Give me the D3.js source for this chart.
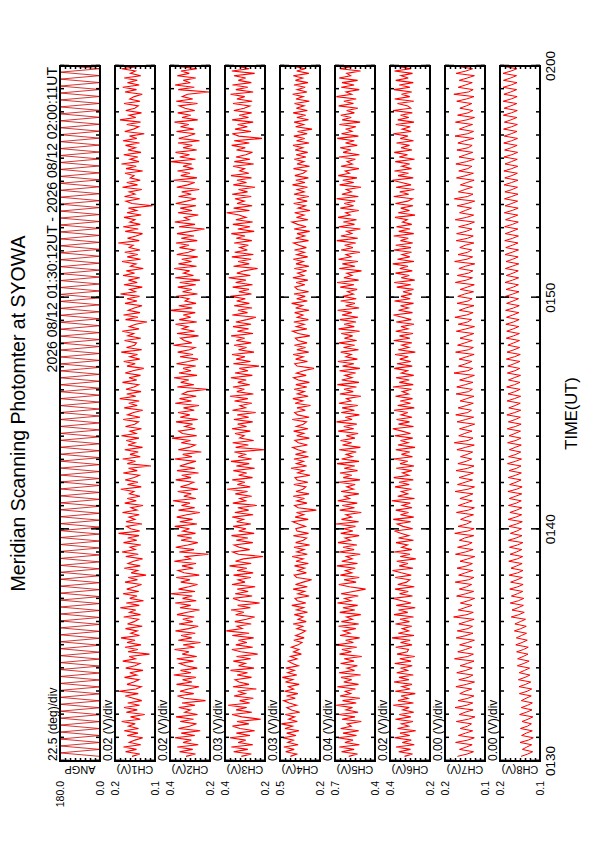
<!DOCTYPE html>
<html>
<head>
<meta charset="utf-8">
<script src="https://cdn.jsdelivr.net/npm/d3@7"></script>
<style>
body { margin: 0; background: #fff; }
text { font-family: "Liberation Sans", Arial, sans-serif; fill: #000; }
</style>
</head>
<body>
<script>
// panel names, y-axis bottom value and value per division (8 divisions per panel)
const panelNames = ["ANGP", "CH1(V)", "CH2(V)", "CH3(V)", "CH4(V)", "CH5(V)", "CH6(V)", "CH7(V)", "CH8(V)"];
const panelUnits = ["(deg)", "(V)", "(V)", "(V)", "(V)", "(V)", "(V)", "(V)", "(V)"];
const panelLow   = [0, 0.06, 0.24, 0.20, 0.24, 0.38, 0.22, 0.14, 0.14];
const panelDiv   = [22.5, 0.02, 0.02, 0.03, 0.03, 0.04, 0.02, 0.004, 0.004];
const timeTickLabels = ["0130", "0140", "0150", "0200"];

// scan angle (deg)
const angp = [
0,180,0,180,0,180,0,180,0,180,0,180,0,180,0,180,0,180,0,180,
0,180,0,180,0,180,0,180,0,180,0,180,0,180,0,180,0,180,0,180,
0,180,0,180,0,180,0,180,0,180,0,180,0,180,0,180,0,180,0,180,
0,180,0,180,0,180,0,180,0,180,0,180,0,180,0,180,0,180,0,180,
0,180,0,180,0,180,0,180,0,180,0,180,0,180,0,180,0,180,0,180,
0,180,0,180,0,180,0,180,0,180,0,180,0,180,0,180,0,180,0,180,
0,180,0,180,0,180,0,180,0,180,0,180,0,180,0,180,0,180,0,180,
0,180,0,180,0,180,0,180,0,180,0,180,0,180,0,180,0,180,0,180,
0,180,0,180,0,180,0,180,0,180,0,180,0,180,0,180,0,180,0,180,
0,180,0,180,0,180,0,180,0,180,0,180,0,180,0,180,0,180,0,180,0];

// channel values in mV
const ch1 = [
152,121,178,134,186,117,163,140,109,171,128,183,126,166,139,193,119,158,101,175,
131,184,122,169,113,147,179,127,204,136,115,172,145,124,182,133,161,108,177,140,
120,189,138,163,82,168,129,180,116,172,140,196,122,157,131,178,111,170,143,126,
185,118,162,137,199,123,175,106,161,132,188,125,173,141,114,180,130,167,96,155,
129,183,119,168,146,110,177,127,192,139,160,117,186,133,169,124,206,121,157,174,
112,176,140,164,123,190,132,156,108,181,135,171,120,162,144,197,115,170,128,179,
143,122,187,131,166,76,171,138,189,119,160,127,181,110,168,139,175,124,194,136,
160,114,178,141,126,187,120,170,146,109,183,131,165,123,201,137,173,116,176,144,
125,190,133,164,118,179,148,105,172,139,185,121,161,130,195,113,174,142,134,182,
117,169,145,191,124,163,137,92,178,128,186,120,167,143,112,180,132,172,122,198,
138,161,111,184,131,166,121,188,142,175,107,158,136,192,118,171,129,181,120,163,
147,207,123,170,136,110,179,127,187,119,161,140,184,115,172,133,166,70,152,176,
121,182,140,163,113,190,130,173,119,159,144,180,109,176,135,194,124,160,129,185,
116,168,138,178,122,188,133,162,103,181,146,125,173,118,200,137,164,114,177,141,
127,184,120,161,143,111,180,134,189,123,170,131,183,117,158,138,193,126,174,139];
const ch2 = [
336,298,362,309,371,287,348,315,380,301,355,279,366,322,294,359,306,376,290,341,
319,365,300,352,258,343,370,305,360,327,284,374,312,350,297,385,316,358,291,337,
362,306,373,293,351,324,382,302,347,278,367,313,356,299,378,326,287,364,309,349,
303,372,331,282,360,317,379,295,350,311,398,300,366,325,290,357,320,375,283,344,
368,307,352,296,383,318,339,246,363,304,377,329,289,356,313,371,298,349,322,381,
292,361,310,373,333,281,366,301,354,320,388,297,345,315,369,288,358,326,305,377,
316,353,286,372,300,361,330,296,381,312,349,275,367,323,299,355,318,392,293,350,
365,299,341,310,376,289,359,321,368,303,346,284,379,314,362,295,351,330,250,371,
305,357,325,384,292,364,316,348,297,374,327,288,360,308,369,322,300,386,313,343,
358,286,372,302,352,328,378,293,363,317,347,299,400,311,365,296,340,324,375,290,
350,313,369,297,361,280,379,306,346,321,383,294,366,314,353,289,373,327,302,362,
324,376,291,355,304,372,318,262,364,300,381,323,342,287,368,312,359,296,377,333,
296,366,315,353,283,373,329,301,385,292,357,320,370,306,348,313,396,298,361,322,
378,293,348,311,368,282,365,327,299,374,305,358,325,382,289,352,317,369,301,340,
363,290,375,309,351,330,244,367,303,380,319,347,297,371,323,356,292,365,314,349];
const ch3 = [
342,282,388,303,402,273,361,316,410,290,372,262,350,395,297,368,226,339,398,279,
373,310,421,292,352,270,386,319,364,252,392,296,356,380,281,367,305,407,266,359,
318,390,286,371,244,346,399,274,375,309,360,268,396,295,432,337,368,283,381,312,
262,376,327,404,288,364,232,350,392,277,379,301,366,259,398,320,361,285,389,271,
367,309,413,283,377,330,212,359,394,292,355,386,273,372,303,401,265,358,314,391,
285,370,329,397,271,381,298,363,249,393,316,352,280,378,305,427,289,366,321,396,
275,358,310,390,262,372,295,404,280,361,319,384,205,376,300,394,268,352,325,380,
288,398,311,364,274,387,298,366,256,395,317,350,279,383,303,410,270,369,324,392,
292,363,313,405,276,380,302,354,236,390,287,373,320,398,266,359,311,386,283,372,
322,403,272,366,299,392,284,375,309,255,396,305,362,278,385,294,370,318,409,281,
357,296,394,275,376,315,418,288,369,326,244,389,295,361,283,399,270,382,306,352,
300,385,279,372,320,402,265,363,290,393,274,375,314,356,430,293,388,277,368,324,
380,283,397,305,359,260,390,311,368,281,404,297,352,323,392,268,384,290,374,315,
275,371,318,400,294,385,218,357,396,284,380,306,364,271,397,299,355,280,387,325,
291,392,277,369,322,407,271,375,303,395,282,360,316,386,262,399,296,358,287,383];
const ch4 = [
418,380,446,395,457,371,433,400,462,384,440,366,450,405,472,376,428,392,448,362,
411,439,380,425,458,388,441,373,452,398,429,365,447,403,466,379,434,394,445,370,
405,431,378,417,352,399,366,412,371,348,397,335,386,352,327,379,343,401,323,372,
341,394,315,381,338,409,325,376,390,305,373,332,401,316,387,341,290,380,395,322,
374,332,393,310,384,341,407,316,379,335,396,302,386,340,320,400,309,378,385,328,
369,404,311,389,337,381,262,371,393,318,379,333,401,306,384,342,325,397,313,377,
390,300,374,336,414,320,381,339,396,309,387,326,373,404,315,370,391,304,380,337,
398,312,382,340,321,406,305,375,392,328,378,297,389,343,403,311,376,334,395,319,
385,304,371,399,323,381,338,276,377,392,315,386,341,401,308,379,327,394,318,372,
388,301,370,405,319,382,335,397,310,377,342,392,306,386,344,410,316,380,329,396,
308,375,391,331,383,313,403,337,374,320,394,306,384,340,400,314,379,333,393,322,
367,399,309,386,331,378,302,395,323,374,408,312,381,336,392,300,371,328,398,317,
380,307,396,335,377,315,405,330,385,310,391,341,321,399,303,378,336,394,325,383,
314,389,343,402,306,381,332,397,317,375,288,386,338,395,309,379,326,401,316,382,
336,393,304,384,341,404,318,377,329,396,312,387,344,400,307,380,330,392,320,376];
const ch5 = [
590,520,648,547,665,505,621,556,676,528,636,510,655,570,602,490,644,540,671,515,
612,560,690,530,640,500,660,574,618,536,681,512,630,566,652,495,668,544,604,521,
655,548,626,486,664,569,645,526,694,553,615,503,659,579,633,534,672,510,649,560,
608,494,662,542,637,519,680,571,622,514,652,555,455,585,670,531,628,506,657,565,
617,538,685,520,646,562,609,498,667,547,636,525,676,576,620,507,654,557,631,536,
692,511,648,568,613,490,662,544,642,522,678,583,624,509,651,552,606,539,673,500,
634,566,660,520,626,542,684,508,647,561,611,530,666,497,640,567,656,541,610,515,
674,550,630,526,688,563,617,505,650,545,643,518,669,574,608,493,661,554,628,529,
681,508,646,564,621,535,664,501,639,549,677,521,614,570,654,512,632,543,668,527,
625,559,650,503,671,546,627,532,662,516,644,566,679,507,615,541,655,530,637,553,
600,523,658,548,683,511,629,563,606,488,666,540,641,517,672,572,612,500,651,557,
623,534,686,518,653,565,607,497,670,544,633,528,675,578,614,510,657,551,626,539,
688,514,645,569,610,492,663,550,638,524,674,584,618,509,652,561,603,537,668,505,
635,573,659,522,616,546,682,513,648,564,609,533,665,499,642,570,654,545,607,517,
671,552,629,531,689,567,612,506,650,547,644,519,667,575,606,496,660,560,627,534];
const ch6 = [
322,290,345,298,356,283,331,295,362,301,340,277,350,306,334,288,358,297,343,285,
329,303,367,286,348,308,336,279,359,300,332,292,364,304,344,287,353,310,335,291,
361,296,341,281,352,311,306,357,292,338,299,372,284,347,305,331,293,358,302,340,
286,364,309,346,279,355,296,333,368,290,342,307,360,283,349,314,301,359,295,335,
370,288,343,308,353,277,339,300,363,293,333,310,356,286,346,305,337,362,289,328,
351,297,367,285,338,306,357,292,331,299,373,282,349,309,335,294,360,303,344,287,
365,305,330,293,355,284,340,309,366,290,334,301,357,280,348,307,338,289,361,298,
332,369,286,346,302,354,292,336,309,364,283,349,298,339,290,358,306,331,294,368,
287,343,303,356,285,335,310,363,291,352,297,341,307,360,279,347,304,333,293,365,
300,342,288,357,308,336,284,355,295,331,366,290,346,306,338,286,362,299,336,292,
328,286,353,297,363,281,335,303,358,291,341,308,369,284,350,301,332,294,364,296,
357,289,338,307,365,285,345,300,354,293,330,311,360,280,347,302,337,288,358,309,
290,365,305,341,283,356,296,334,371,287,348,306,362,294,333,301,359,282,343,310,
363,292,336,302,354,286,339,308,366,295,331,299,357,284,349,305,338,291,368,297,
309,350,285,361,301,334,293,364,300,343,287,357,307,336,290,362,296,347,304,329];
const ch7 = [
162.1,154.3,149.2,160.4,155.1,150.3,163.5,153.8,148.6,161.2,155.6,149.9,159.8,154.0,150.8,
162.9,153.2,148.1,160.7,155.9,149.5,164.0,154.6,149.8,161.5,153.7,148.9,160.2,156.1,150.6,
163.3,154.8,148.4,161.0,153.5,149.7,162.6,155.4,150.2,159.9,154.2,148.8,164.4,153.9,149.3,
161.8,155.7,150.5,160.3,154.1,148.5,163.0,155.2,149.6,162.2,153.6,150.0,160.9,154.9,148.7,
165.1,154.4,149.4,161.4,156.0,150.4,159.7,153.4,148.3,162.7,155.3,149.1,160.6,154.7,150.7,
163.8,153.1,148.9,161.1,155.8,149.8,162.4,154.5,150.1,160.0,153.8,148.2,163.6,155.5,149.5,
161.9,154.2,150.3,160.5,156.3,149.0,164.2,153.7,148.7,161.6,154.8,150.9,159.5,155.0,149.2,
162.8,153.3,148.5,161.3,155.6,150.2,160.1,154.4,149.7,163.9,153.6,148.4,162.0,155.9,150.0,
160.8,154.6,149.3,163.2,153.9,148.8,161.7,155.1,150.6,159.6,154.3,149.9,162.5,155.7,148.6,
164.6,153.5,149.6,161.0,156.2,150.4,160.4,154.0,148.3,162.3,155.4,149.1,163.4,153.8,150.8,
161.5,155.0,149.4,159.9,154.6,148.9,163.1,153.2,150.1,162.6,155.8,149.6,160.3,154.1,148.5,
164.8,153.7,149.8,161.2,155.3,150.5,160.7,154.9,148.7,163.5,153.4,149.3,161.9,156.0,150.2,
160.0,154.5,149.0,162.9,155.2,148.4,161.4,153.9,150.7,164.1,154.7,149.5,160.6,155.5,148.8,
162.4,153.6,150.3,161.8,156.4,149.2,159.8,154.2,148.6,163.7,155.0,150.0,162.1,153.3,149.7,
160.9,155.6,148.2,164.3,154.4,149.9,161.6,153.8,150.6,160.2,155.9,148.9,163.0,154.0,149.4,
162.7,155.1,150.4,161.1,153.5,148.5,163.8,154.8,149.1,160.4,155.7,150.8,162.2,154.3,148.3,
164.5,153.9,149.6,161.3,156.1,150.1,159.7,154.6,148.7,162.8,155.2,149.3,161.0,153.7,150.5,
163.3,154.9,148.6,160.8,155.4,149.8,162.5,153.4,150.3,161.7,156.3,148.9,164.0,154.1,149.2,
160.5,155.8,150.0,163.6,154.5,148.4,161.9,153.6,149.7,160.1,155.0,150.6,162.6,154.7,148.8,
164.9,153.2,149.5,161.4,155.6,150.2,160.6,154.2,148.5,163.1,155.3,149.9,161.8,153.9,150.4];
const ch8 = [
155.2,149.8,145.9,154.1,150.6,146.7,156.0,149.3,145.4,154.7,151.0,146.2,155.6,150.1,146.9,
154.4,149.6,145.7,156.3,150.8,146.4,155.0,149.9,146.1,154.9,151.2,147.0,156.5,150.4,146.6,
156.8,151.5,147.4,157.3,152.0,148.1,156.6,152.4,148.3,158.1,152.9,148.7,157.9,153.5,149.6,
158.7,153.2,149.4,159.4,154.4,150.2,158.9,154.9,150.8,160.5,155.3,151.0,160.1,155.8,151.6,
163.0,156.9,152.6,162.4,157.5,153.3,163.8,157.2,153.0,162.9,158.1,153.8,164.2,157.7,153.5,
163.5,158.4,154.1,164.7,157.9,153.6,163.2,158.6,154.3,165.0,158.2,153.9,163.9,158.8,154.6,
164.4,158.0,153.7,165.3,159.1,154.4,163.7,158.5,154.8,164.9,158.9,154.2,165.5,159.3,154.7,
164.1,158.7,154.5,165.2,159.0,155.0,164.6,159.4,154.6,165.7,158.6,154.3,164.3,159.2,155.1,
165.4,159.5,154.9,164.8,158.8,155.2,166.0,159.7,154.8,165.1,159.3,155.4,164.5,159.9,155.0,
165.9,159.2,155.3,164.7,160.0,155.6,166.2,159.6,155.1,165.3,159.8,155.7,166.5,160.2,155.4,
165.0,159.9,155.8,166.3,160.4,155.5,165.6,160.1,155.9,166.7,160.3,156.0,165.2,160.6,155.6,
166.1,160.0,156.2,165.8,160.7,156.1,166.9,160.5,155.8,166.4,160.9,156.3,165.7,161.0,156.4,
167.0,161.2,156.5,166.6,161.5,157.0,167.3,161.1,156.7,166.8,161.8,156.9,167.5,161.3,156.6,
166.7,161.6,157.2,167.6,161.9,156.8,167.1,161.4,157.3,167.9,162.0,157.1,166.9,161.7,157.4,
167.7,162.2,157.0,167.2,161.8,157.5,168.0,162.3,157.2,167.4,162.1,157.6,168.2,161.9,157.3,
167.8,162.4,157.7,168.3,162.0,157.4,167.6,162.6,157.8,168.5,162.2,157.5,167.9,162.5,157.9,
168.4,162.7,157.6,168.1,162.3,158.0,168.7,162.8,157.7,168.2,162.4,158.1,168.9,162.6,157.8,
168.0,162.9,158.2,168.8,162.5,157.9,168.3,163.0,158.3,169.0,162.7,158.0,168.6,163.1,158.4,
169.1,162.8,158.1,168.5,163.2,158.5,169.3,162.9,158.2,168.7,163.3,158.6,169.4,163.0,158.3,
168.9,163.4,158.7,169.5,163.1,158.4,169.2,163.5,158.8,169.6,163.2,158.5,169.0,163.6,158.9];

const series = [angp, ch1, ch2, ch3, ch4, ch5, ch6, ch7, ch8];
const valueScale = [1, 0.001, 0.001, 0.001, 0.001, 0.001, 0.001, 0.001, 0.001]; // deg, mV -> V

const dataStart = new Date(Date.UTC(2026, 7, 12, 1, 30, 12));
const dataEnd   = new Date(Date.UTC(2026, 7, 12, 2, 0, 11));
const axisStart = new Date(Date.UTC(2026, 7, 12, 1, 30, 0));
const axisEnd   = new Date(Date.UTC(2026, 7, 12, 2, 0, 0));

// page is portrait; the plot is drawn in landscape and turned a quarter turn
const svg = d3.select("body").append("svg")
    .attr("width", 595)
    .attr("height", 842);

const g = svg.append("g")
    .attr("transform", "translate(0,842) rotate(-90)");

const left = 81, right = 776;
const panelH = 40, panelGap = 55, firstTop = 60;

const x = d3.scaleUtc()
    .domain([axisStart, axisEnd])
    .range([left, right]);

const fmtTime = d3.utcFormat("%H%M");

g.append("text")
    .attr("x", (left + right) / 2)
    .attr("y", 25)
    .attr("text-anchor", "middle")
    .style("font-size", "19.5px")
    .text("Meridian Scanning Photomter at SYOWA");

g.append("text")
    .attr("x", right - 1)
    .attr("y", 57)
    .attr("text-anchor", "end")
    .style("font-size", "14px")
    .text("2026 08/12 01:30:12UT - 2026 08/12 02:00:11UT");

panelNames.forEach(function(name, i) {

    var top = firstTop + i * panelGap,
        bottom = top + panelH;
    var lo = panelLow[i],
        div = panelDiv[i],
        hi = lo + 8 * div;

    var y = d3.scaleLinear()
        .domain([lo, hi])
        .range([bottom, top]);

    var pg = g.append("g").attr("class", "panel");

    pg.append("clipPath")
        .attr("id", "clip" + i)
      .append("rect")
        .attr("x", left)
        .attr("y", top)
        .attr("width", right - left)
        .attr("height", panelH);

    // trace
    var vals = series[i];
    var n = vals.length;
    var step = (dataEnd - dataStart) / (n - 1);
    var pts = vals.map(function(v, k) {
        return { t: new Date(+dataStart + k * step), v: v * valueScale[i] };
    });

    var line = d3.line()
        .x(function(d) { return x(d.t); })
        .y(function(d) { return y(d.v); });

    pg.append("path")
        .datum(pts)
        .attr("clip-path", "url(#clip" + i + ")")
        .attr("fill", "none")
        .attr("stroke", i === 0 ? "#cc0000" : "#ff0000")
        .attr("stroke-width", i === 0 ? 0.8 : (i >= 7 ? 1 : 1.1))
        .attr("d", line);

    // time ticks on both edges
    var minor = d3.utcMinute.every(1), major = d3.utcMinute.every(10);
    [[d3.axisBottom, top], [d3.axisTop, bottom]].forEach(function(a) {
        pg.append("g")
            .attr("class", "tick-axis")
            .attr("transform", "translate(0," + a[1] + ")")
            .call(a[0](x).ticks(minor).tickSize(4).tickFormat(""));
        pg.append("g")
            .attr("class", "tick-axis")
            .attr("transform", "translate(0," + a[1] + ")")
            .call(a[0](x).ticks(major).tickSize(9).tickFormat(""));
    });

    // value ticks on both edges
    var divTicks = d3.range(1, 8).map(function(k) { return lo + k * div; });
    [[d3.axisRight, left], [d3.axisLeft, right]].forEach(function(a) {
        pg.append("g")
            .attr("class", "tick-axis")
            .attr("transform", "translate(" + a[1] + ",0)")
            .call(a[0](y).tickValues(divTicks).tickSize(3).tickFormat(""));
    });

    pg.append("rect")
        .attr("x", left)
        .attr("y", top)
        .attr("width", right - left)
        .attr("height", panelH)
        .attr("fill", "none")
        .attr("stroke", "#000")
        .attr("stroke-width", 2);

    // per-division note
    var divText = i === 0 ? d3.format(".1f")(div) : d3.format(".2f")(div);
    pg.append("text")
        .attr("x", left)
        .attr("y", top - 3)
        .style("font-size", "12px")
        .text(divText + " " + panelUnits[i] + "/div");

    // end values
    var endFmt = d3.format(".1f");
    [[hi, top], [lo, bottom]].forEach(function(e) {
        pg.append("text")
            .attr("x", left - 20)
            .attr("y", e[1])
            .attr("text-anchor", "end")
            .attr("dominant-baseline", "central")
            .style("font-size", "10.5px")
            .text(endFmt(e[0]));
    });

    // panel name
    pg.append("text")
        .attr("transform", "translate(" + (left - 5) + "," + (top + panelH / 2) + ") rotate(-90)")
        .attr("text-anchor", "middle")
        .style("font-size", "11px")
        .text(name);
});

g.selectAll(".tick-axis .domain").remove();
g.selectAll(".tick-axis line")
    .attr("stroke", "#000")
    .attr("stroke-width", 1.5);

// time labels under the last panel
var labelTimes = x.ticks(d3.utcMinute.every(10));
g.selectAll(".time-label")
    .data(labelTimes)
  .enter().append("text")
    .attr("class", "time-label")
    .attr("x", function(d) { return x(d); })
    .attr("y", 555)
    .attr("text-anchor", "middle")
    .style("font-size", "13.5px")
    .text(function(d, k) { return timeTickLabels[k] || fmtTime(d); });

g.append("text")
    .attr("x", (left + right) / 2)
    .attr("y", 577)
    .attr("text-anchor", "middle")
    .style("font-size", "16.5px")
    .text("TIME(UT)");
</script>
</body>
</html>
